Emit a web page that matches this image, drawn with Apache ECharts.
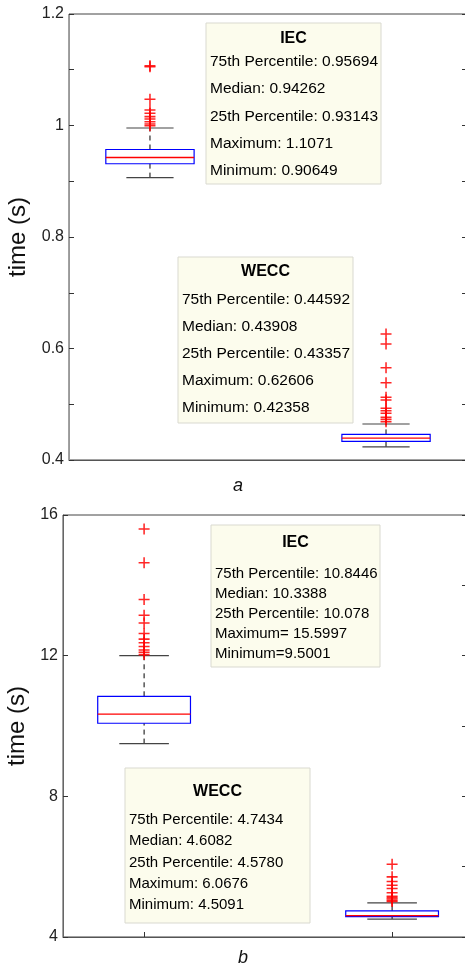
<!DOCTYPE html>
<html lang="en">
<head>
    <meta charset="UTF-8">
    <title>time boxplot</title>
    <script src="https://cdn.jsdelivr.net/npm/echarts@6/dist/echarts.min.js"></script>
    <style>
        body { margin: 0; background: #fff; }
        #main { width: 465px; height: 966px; }
    </style>
</head>
<body>
<div id="main"></div>
<script>
    // box stats: [x, lower whisker, 25th, median, 75th, upper whisker]
    var boxA = [[1, 0.90649, 0.93143, 0.94262, 0.95694, 0.9955],
                [2, 0.42358, 0.43357, 0.43908, 0.44592, 0.4646]];
    var outIecA = [1.1071, 1.1055, 1.047, 1.0278, 1.0219, 1.0159, 1.0117, 1.0069, 1.0027, 0.9997];
    var outWeccA = [0.62606, 0.608, 0.5656, 0.5387, 0.5124, 0.5076, 0.4927, 0.4885, 0.4837, 0.4766, 0.473, 0.4688];

    var boxB = [[1, 9.5001, 10.078, 10.3388, 10.8446, 12.0],
                [2, 4.5091, 4.578, 4.6082, 4.7434, 4.97]];
    var outIecB = [15.5997, 14.64, 13.6, 13.15, 12.93, 12.63, 12.47, 12.37, 12.26, 12.16, 12.1, 12.03];
    var outWeccB = [6.0676, 5.71, 5.58, 5.47, 5.38, 5.26, 5.16, 5.12, 5.08, 5.04, 5.01];

    var noteIecA = ['75th Percentile: 0.95694', 'Median: 0.94262', '25th Percentile: 0.93143', 'Maximum: 1.1071', 'Minimum: 0.90649'];
    var noteWeccA = ['75th Percentile: 0.44592', 'Median: 0.43908', '25th Percentile: 0.43357', 'Maximum: 0.62606', 'Minimum: 0.42358'];
    var noteIecB = ['75th Percentile: 10.8446', 'Median: 10.3388', '25th Percentile: 10.078', 'Maximum= 15.5997', 'Minimum=9.5001'];
    var noteWeccB = ['75th Percentile: 4.7434', 'Median: 4.6082', '25th Percentile: 4.5780', 'Maximum: 6.0676', 'Minimum: 4.5091'];

    var FONT = '"Liberation Sans", Arial, Helvetica, sans-serif';
    var plus = 'path://M4.3,0H5.7V4.3H10V5.7H5.7V10H4.3V5.7H0V4.3H4.3Z';

    function renderBox(params, api) {
        var x = api.value(0);
        var hw = 0.187, cw = 0.1;
        var lo = api.coord([x, api.value(1)]);
        var q1 = api.coord([x, api.value(2)]);
        var md = api.coord([x, api.value(3)]);
        var q3 = api.coord([x, api.value(4)]);
        var hi = api.coord([x, api.value(5)]);
        var bl = api.coord([x - hw, 0])[0], br = api.coord([x + hw, 0])[0];
        var cl = api.coord([x - cw, 0])[0], cr = api.coord([x + cw, 0])[0];
        var dash = {stroke: '#000', lineWidth: 1, lineDash: [5, 4], fill: null};
        var cap = {stroke: '#444', lineWidth: 1.2, fill: null};
        return {
            type: 'group',
            children: [
                {type: 'line', shape: {x1: q3[0], y1: q3[1], x2: hi[0], y2: hi[1]}, style: dash},
                {type: 'line', shape: {x1: lo[0], y1: lo[1], x2: q1[0], y2: q1[1]}, style: dash},
                {type: 'line', shape: {x1: cl, y1: hi[1], x2: cr, y2: hi[1]}, style: cap},
                {type: 'line', shape: {x1: cl, y1: lo[1], x2: cr, y2: lo[1]}, style: cap},
                {type: 'rect', shape: {x: bl, y: q3[1], width: br - bl, height: q1[1] - q3[1]},
                    style: {stroke: '#0000ff', lineWidth: 1.2, fill: null}},
                {type: 'line', shape: {x1: bl, y1: md[1], x2: br, y2: md[1]},
                    style: {stroke: '#ff0000', lineWidth: 1.3, fill: null}}
            ]
        };
    }

    function pts(x, arr) {
        return arr.map(function (v) { return [x, v]; });
    }

    function note(x, y, w, h, title, titleY, lines, firstY, step, size) {
        var kids = [
            {type: 'rect', shape: {x: x, y: y, width: w, height: h},
                style: {fill: '#fcfced', stroke: '#d9d9d0', lineWidth: 1}},
            {type: 'text', x: x + w / 2, y: titleY,
                style: {text: title, font: 'bold 16px ' + FONT, fill: '#000',
                    align: 'center', textAlign: 'center', verticalAlign: 'middle', textVerticalAlign: 'middle'}}
        ];
        for (var i = 0; i < lines.length; i++) {
            kids.push({type: 'text', x: x + 4, y: firstY + i * step,
                style: {text: lines[i], font: size + 'px ' + FONT, fill: '#000',
                    align: 'left', textAlign: 'left', verticalAlign: 'middle', textVerticalAlign: 'middle'}});
        }
        return {type: 'group', children: kids};
    }

    function yAx(idx, min, max, interval, gap, lineColor, minor) {
        return {
            type: 'value', gridIndex: idx, min: min, max: max, interval: interval,
            name: 'time (s)', nameLocation: 'middle', nameGap: gap, nameRotate: 90,
            nameTextStyle: {fontSize: 24, color: '#111', fontFamily: FONT},
            axisLine: {show: true, lineStyle: {color: lineColor, width: 1}},
            axisTick: {show: true, inside: true, length: 5, lineStyle: {color: '#333'}},
            minorTick: {show: minor, splitNumber: 2, length: 5, lineStyle: {color: '#333'}},
            axisLabel: {fontSize: 16, color: '#222', fontFamily: FONT, margin: 5},
            splitLine: {show: false}
        };
    }

    function yRight(idx, min, max, interval) {
        return {
            type: 'value', gridIndex: idx, position: 'right', min: min, max: max, interval: interval,
            axisLine: {show: false},
            axisTick: {show: true, inside: true, length: 5, lineStyle: {color: '#333'}},
            minorTick: {show: true, splitNumber: 2, length: 5, lineStyle: {color: '#333'}},
            axisLabel: {show: false},
            splitLine: {show: false}
        };
    }

    var chart = echarts.init(document.getElementById('main'), null, {renderer: 'canvas'});
    var option = {
        animation: false,
        backgroundColor: '#fff',
        grid: [
            {left: 69, top: 14, width: 398, height: 446, show: true, borderColor: '#444', borderWidth: 1,
                outerBoundsMode: 'none', containLabel: false},
            {left: 63, top: 515, width: 404, height: 422, show: true, borderColor: '#444', borderWidth: 1,
                outerBoundsMode: 'none', containLabel: false}
        ],
        xAxis: [
            {type: 'value', gridIndex: 0, min: 0.657, max: 2.343,
                axisLine: {show: true, lineStyle: {color: '#555'}},
                axisTick: {show: false}, axisLabel: {show: false}, splitLine: {show: false}},
            {type: 'value', gridIndex: 1, min: 0.673, max: 2.302,
                axisLine: {show: true, lineStyle: {color: '#555'}},
                axisTick: {show: true, inside: true, length: 5, customValues: [1, 2], lineStyle: {color: '#333'}},
                axisLabel: {show: false}, splitLine: {show: false}}
        ],
        yAxis: [
            yAx(0, 0.4, 1.2, 0.2, 36, '#999', true),
            yAx(1, 4, 16, 4, 30, '#666', false),
            yRight(0, 0.4, 1.2, 0.2),
            yRight(1, 4, 16, 4)
        ],
        series: [
            {type: 'custom', xAxisIndex: 0, yAxisIndex: 0, renderItem: renderBox, data: boxA, z: 2},
            {type: 'scatter', xAxisIndex: 0, yAxisIndex: 0, symbol: plus, symbolSize: 11,
                itemStyle: {color: '#ff0000', opacity: 0.85}, data: pts(1, outIecA), z: 3},
            {type: 'scatter', xAxisIndex: 0, yAxisIndex: 0, symbol: plus, symbolSize: 11,
                itemStyle: {color: '#ff0000', opacity: 0.85}, data: pts(2, outWeccA), z: 3},
            {type: 'custom', xAxisIndex: 1, yAxisIndex: 1, renderItem: renderBox, data: boxB, z: 2},
            {type: 'scatter', xAxisIndex: 1, yAxisIndex: 1, symbol: plus, symbolSize: 11,
                itemStyle: {color: '#ff0000', opacity: 0.85}, data: pts(1, outIecB), z: 3},
            {type: 'scatter', xAxisIndex: 1, yAxisIndex: 1, symbol: plus, symbolSize: 11,
                itemStyle: {color: '#ff0000', opacity: 0.85}, data: pts(2, outWeccB), z: 3}
        ],
        graphic: [
            note(206, 23, 175, 161, 'IEC', 39, noteIecA, 62, 27.2, 15.5),
            note(178, 257, 175, 166, 'WECC', 272, noteWeccA, 300, 27, 15.5),
            note(211, 525, 169, 142, 'IEC', 543, noteIecB, 574, 20, 15),
            note(125, 768, 185, 155, 'WECC', 792, noteWeccB, 820, 21.2, 15),
            {type: 'text', x: 238, y: 486, style: {text: 'a', font: 'italic 18px ' + FONT, fill: '#111',
                align: 'center', textAlign: 'center', verticalAlign: 'middle', textVerticalAlign: 'middle'}},
            {type: 'text', x: 243, y: 958, style: {text: 'b', font: 'italic 18px ' + FONT, fill: '#111',
                align: 'center', textAlign: 'center', verticalAlign: 'middle', textVerticalAlign: 'middle'}}
        ]
    };
    chart.setOption(option);
</script>
</body>
</html>
